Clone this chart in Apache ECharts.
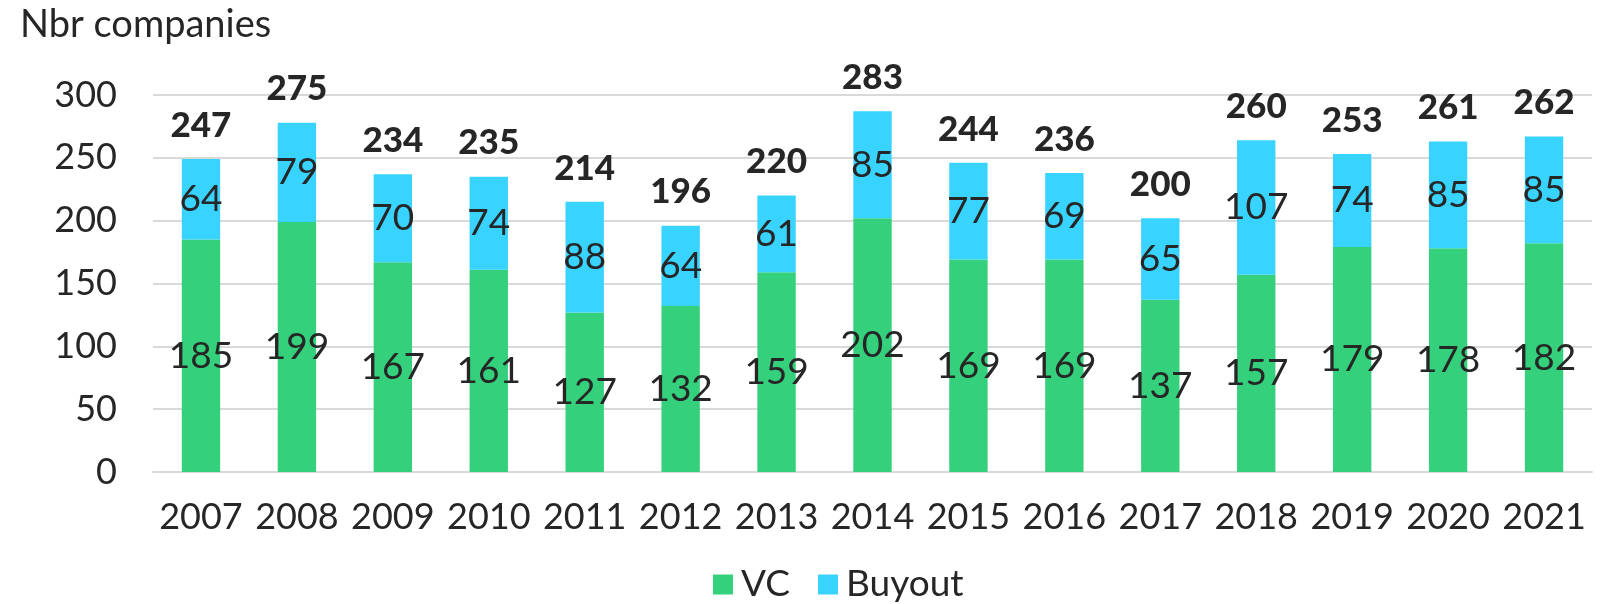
<!DOCTYPE html>
<html>
<head>
<meta charset="utf-8">
<script src="https://cdn.jsdelivr.net/npm/echarts@6/dist/echarts.min.js"></script>
<style>
  html, body { margin: 0; padding: 0; background: #fff; }
  #main { width: 1608px; height: 604px; }
</style>
</head>
<body>
<div id="main"></div>
<script>
// data
var years = ["2007", "2008", "2009", "2010", "2011", "2012", "2013", "2014", "2015", "2016", "2017", "2018", "2019", "2020", "2021"]
var vc = [185, 199, 167, 161, 127, 132, 159, 202, 169, 169, 137, 157, 179, 178, 182]
var buyout = [64, 79, 70, 74, 88, 64, 61, 85, 77, 69, 65, 107, 74, 85, 85]
var totals = [247, 275, 234, 235, 214, 196, 220, 283, 244, 236, 200, 260, 253, 261, 262]

var font = "Lato"
var textColor = "#262626"

var myChart = echarts.init(document.getElementById("main"))
var option = {
  animation: false,
  textStyle: { fontFamily: font, color: textColor },
  title: {
    text: "Nbr companies",
    left: 15,
    top: 1,
    textStyle: { fontFamily: font, fontSize: 38, fontWeight: "normal", color: textColor }
  },
  legend: {
    data: ["VC", "Buyout"],
    left: 708,
    top: 561,
    icon: "rect",
    itemWidth: 20,
    itemHeight: 20,
    itemGap: 28,
    textStyle: { fontFamily: font, fontSize: 37, color: textColor, padding: [0, 0, 0, 3] }
  },
  grid: { left: 153, right: 16, top: 95, bottom: 132 },
  xAxis: {
    type: "category",
    data: years,
    axisLine: { lineStyle: { color: "#d9d9d9", width: 2 } },
    axisTick: { show: false },
    axisLabel: { interval: 0, fontFamily: font, fontSize: 36, color: textColor, margin: 27 }
  },
  yAxis: {
    type: "value",
    min: 0,
    max: 300,
    interval: 50,
    axisLabel: { fontFamily: font, fontSize: 36, color: textColor, margin: 36 },
    splitLine: { lineStyle: { color: "#d9d9d9", width: 2 } }
  },
  series: [
    {
      name: "VC",
      type: "bar",
      stack: "total",
      barWidth: "40%",
      itemStyle: { color: "#34d07b" },
      label: { show: true, position: "inside", fontFamily: font, fontSize: 37, color: textColor },
      data: vc
    },
    {
      name: "Buyout",
      type: "bar",
      stack: "total",
      itemStyle: { color: "#38d3ff" },
      label: { show: true, position: "inside", fontFamily: font, fontSize: 37, color: textColor },
      data: buyout
    },
    {
      // holds the total labels on top of each stack
      name: "Total",
      type: "bar",
      stack: "total",
      itemStyle: { color: "transparent" },
      label: {
        show: true,
        position: "top",
        distance: 16,
        fontFamily: font,
        fontSize: 35,
        fontWeight: 900,
        color: textColor,
        formatter: function (p) { return totals[p.dataIndex] }
      },
      data: totals.map(function () { return 0 })
    }
  ]
}
myChart.setOption(option)
</script>
</body>
</html>
